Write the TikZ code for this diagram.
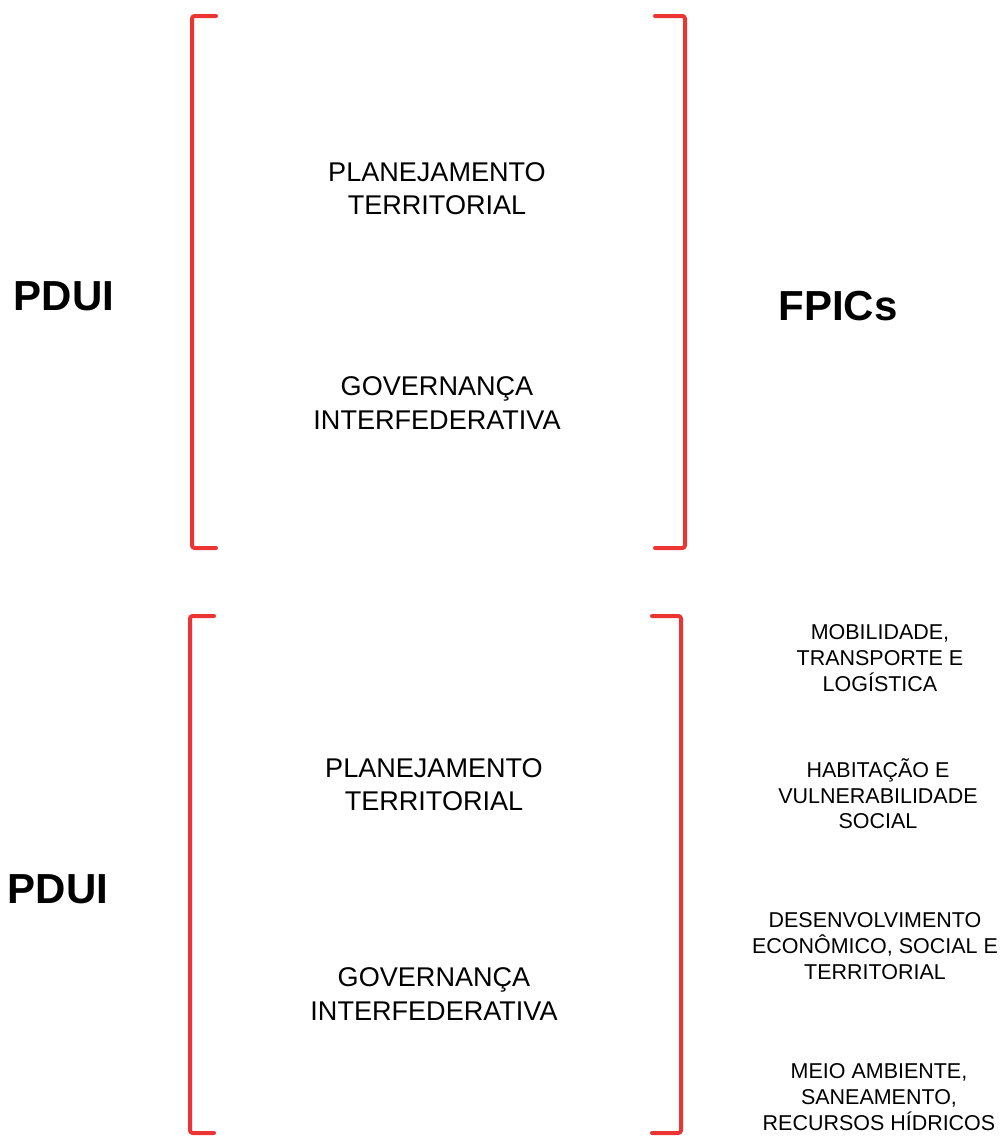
\documentclass[tikz,border=0pt]{standalone}
\usepackage{fontspec}
\setmainfont{Liberation Sans}
\usepackage{xcolor}
\definecolor{BracketRed}{RGB}{236,52,50}

\begin{document}
\begin{tikzpicture}[line cap=round,line join=round,x=0.75pt,y=-0.75pt,
  bracket/.style={color=BracketRed,line width=3pt,rounded corners=2pt},
  title/.style={font=\fontsize{31.5}{38}\selectfont\bfseries,inner sep=0pt},
  topic/.style={font=\fontsize{20.3}{25}\selectfont,align=center,inner sep=0pt},
  fpic/.style={font=\fontsize{16.1}{19.2}\selectfont,align=center,inner sep=0pt}]
  \useasboundingbox (0,0) rectangle (1003,1136);
  % upper brackets
  \draw [bracket] (216,16) -- (192,16) -- (192,548) -- (216,548);
  \draw [bracket] (655,16) -- (685,16) -- (685,548) -- (655,548);
  % lower brackets
  \draw [bracket] (214,616) -- (190,616) -- (190,1133) -- (214,1133);
  \draw [bracket] (652,616) -- (681,616) -- (681,1133) -- (652,1133);
  % upper part
  \node [title] (pduiA) at (64,296) {PDUI};
  \node [title] (fpics) at (838,306) {FPICs};
  \node [topic] (planA) at (437,189) {PLANEJAMENTO\\TERRITORIAL};
  \node [topic] (govA) at (437,403) {GOVERNANÇA\\INTERFEDERATIVA};
  % lower part
  \node [title] (pduiB) at (58,889) {PDUI};
  \node [topic] (planB) at (434,785) {PLANEJAMENTO\\TERRITORIAL};
  \node [topic] (govB) at (434,994) {GOVERNANÇA\\INTERFEDERATIVA};
  \node [fpic] (mobil) at (880,658) {MOBILIDADE,\\TRANSPORTE E\\LOGÍSTICA};
  \node [fpic] (habit) at (878,794) {HABITAÇÃO E\\VULNERABILIDADE\\SOCIAL};
  \node [fpic] (desenv) at (875,946) {DESENVOLVIMENTO\\ECONÔMICO, SOCIAL E\\TERRITORIAL};
  \node [fpic] (meio) at (879,1097) {MEIO AMBIENTE,\\SANEAMENTO,\\RECURSOS HÍDRICOS};
\end{tikzpicture}
\end{document}
